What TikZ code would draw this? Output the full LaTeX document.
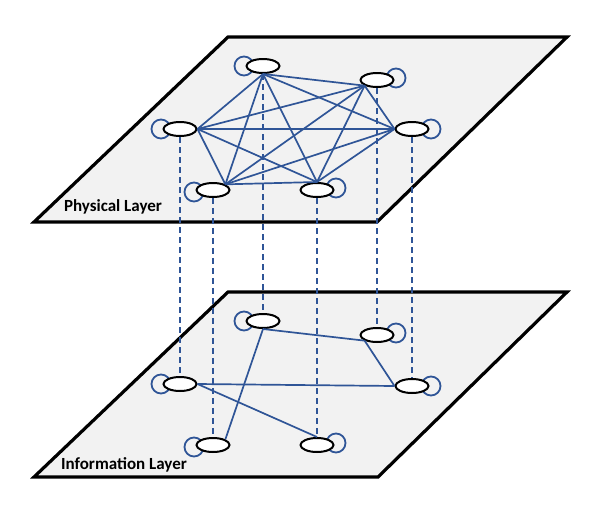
\documentclass[tikz,border=0pt]{standalone}
\usepackage{fontspec}
\setmainfont{Carlito}
\usepackage{tikz}
\usetikzlibrary{shapes.geometric}

\definecolor{edgeblue}{HTML}{2F5597}
\definecolor{planegray}{HTML}{F2F2F2}

\begin{document}
\begin{tikzpicture}[x=1pt, y=-1pt,
		plane/.style={draw=black, line width=3.2pt, fill=planegray, line join=miter},
		agent/.style={ellipse, draw=black, line width=2pt, fill=white, minimum width=33pt, minimum height=14pt, inner sep=0pt},
		link/.style={draw=edgeblue, line width=1.7pt},
		tie/.style={draw=edgeblue, line width=1.7pt, dash pattern=on 6pt off 4pt},
		selfloop/.style={draw=edgeblue, line width=1.8pt},
		layername/.style={font=\bfseries\fontsize{17}{20}\selectfont}]
			
			\useasboundingbox (0, 0) rectangle (604, 506);
			
			% Planes
			\draw[plane] (228, 292) -- (567, 292) -- (378, 477) -- (34, 477) -- cycle;
			\draw[plane] (228, 37) -- (567, 37) -- (377, 222) -- (34, 222) -- cycle;
			
			\node[layername] (phys) at (113, 207) {Physical Layer};
			\node[layername] (info) at (124, 465) {Information Layer};
			
			% Physical layer agents
			\coordinate (p1) at (263, 66);
			\coordinate (p2) at (377, 80);
			\coordinate (p3) at (180, 129);
			\coordinate (p4) at (412, 129);
			\coordinate (p5) at (213, 190);
			\coordinate (p6) at (317, 190);
			
			% Information layer agents
			\coordinate (i1) at (263, 321);
			\coordinate (i2) at (377, 335);
			\coordinate (i3) at (180, 384);
			\coordinate (i4) at (412, 386);
			\coordinate (i5) at (213, 445);
			\coordinate (i6) at (317, 445);
			
			% Self loops (left or right)
			\draw[selfloop] ([xshift=-19pt]p1) circle[radius=9.5pt];
			\draw[selfloop] ([xshift=19pt, yshift=2pt]p2) circle[radius=9.5pt];
			\draw[selfloop] ([xshift=-19pt]p3) circle[radius=9.5pt];
			\draw[selfloop] ([xshift=19pt]p4) circle[radius=9.5pt];
			\draw[selfloop] ([xshift=-19pt, yshift=-2pt]p5) circle[radius=9.5pt];
			\draw[selfloop] ([xshift=19pt, yshift=2pt]p6) circle[radius=9.5pt];
			\draw[selfloop] ([xshift=-19pt]i1) circle[radius=9.5pt];
			\draw[selfloop] ([xshift=19pt, yshift=2pt]i2) circle[radius=9.5pt];
			\draw[selfloop] ([xshift=-19pt]i3) circle[radius=9.5pt];
			\draw[selfloop] ([xshift=19pt]i4) circle[radius=9.5pt];
			\draw[selfloop] ([xshift=-19pt, yshift=-2pt]i5) circle[radius=9.5pt];
			\draw[selfloop] ([xshift=19pt, yshift=2pt]i6) circle[radius=9.5pt];
			
			\node[agent] (a1) at (p1) {};
			\node[agent] (a2) at (p2) {};
			\node[agent] (a3) at (p3) {};
			\node[agent] (a4) at (p4) {};
			\node[agent] (a5) at (p5) {};
			\node[agent] (a6) at (p6) {};
			\node[agent] (b1) at (i1) {};
			\node[agent] (b2) at (i2) {};
			\node[agent] (b3) at (i3) {};
			\node[agent] (b4) at (i4) {};
			\node[agent] (b5) at (i5) {};
			\node[agent] (b6) at (i6) {};
			
			% Vertical ties between layers
			\draw[tie] (a1.south) -- (b1.north);
			\draw[tie] (a2.south) -- (b2.north);
			\draw[tie] (a3.south) -- (b3.north);
			\draw[tie] (a4.south) -- (b4.north);
			\draw[tie] (a5.south) -- (b5.north);
			\draw[tie] (a6.south) -- (b6.north);
			
			% Physical layer: every pair connected
			\draw[link] (a1.south) -- (a2.south west);
			\draw[link] (a1.south) -- (a3.east);
			\draw[link] (a1.south) -- (a4.west);
			\draw[link] (a1.south) -- (a5.north east);
			\draw[link] (a1.south) -- (a6.north);
			\draw[link] (a2.south west) -- (a3.east);
			\draw[link] (a2.south west) -- (a4.west);
			\draw[link] (a2.south west) -- (a5.north east);
			\draw[link] (a2.south west) -- (a6.north);
			\draw[link] (a3.east) -- (a4.west);
			\draw[link] (a3.east) -- (a5.north east);
			\draw[link] (a3.east) -- (a6.north);
			\draw[link] (a4.west) -- (a5.north east);
			\draw[link] (a4.west) -- (a6.north);
			\draw[link] (a5.north east) -- (a6.north);
			
			% Information layer
			\draw[link] (b1.south) -- (b2.south west);
			\draw[link] (b1.south) -- (b5.north east);
			\draw[link] (b2.south west) -- (b4.west);
			\draw[link] (b3.east) -- (b4.west);
			\draw[link] (b3.east) -- (b6.north);
			
		\end{tikzpicture}
\end{document}
